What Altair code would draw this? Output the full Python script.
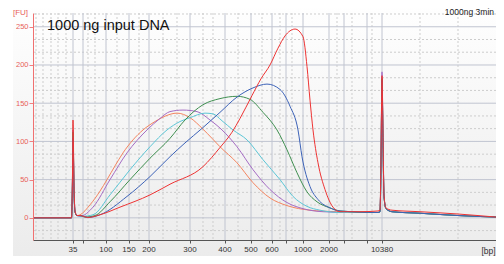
import altair as alt
import pandas as pd

# ---- axis / ladder data (migration time in s) ----
ladder_bp = [35, 50, 100, 150, 200, 300, 400, 500, 600, 700, 1000, 2000, 3000, 7000, 10380]
ladder_time = [43.0, 45.0, 49.6, 54.2, 58.2, 66.4, 73.4, 78.6, 82.8, 85.6, 89.0, 94.2, 97.2, 101.8, 104.8]
labeled_bp = [35, 100, 150, 200, 300, 400, 500, 600, 1000, 2000, 10380]
minor_time = [35.6, 37.0, 38.6, 40.0, 41.6, 46.0, 47.4, 51.8, 56.2, 61.0, 63.8, 69.0, 71.0,
              76.0, 80.8, 84.4, 86.8, 95.8, 98.8, 102.8, 112.4, 120.0]
fu_major = [0, 50, 100, 150, 200, 250]
fu_minor = [-16.7, 16.7, 33.3, 66.7, 83.3, 116.7, 133.3, 166.7, 183.3, 216.7, 233.3, 266.7]

# ---- series (time, FU) ----
orange_t = [35.0, 42.7, 42.9, 43.0, 43.2, 43.4, 43.8, 44.4, 46.4, 48.4, 49.8, 51.4, 53.0, 55.0, 57.0,
            59.4, 61.4, 63.8, 66.4, 69.0, 70.8, 72.4, 75.8, 79.0, 82.4, 85.8, 90.4, 95.8, 104.0, 104.4,
            104.6, 104.8, 105.0, 105.2, 105.6, 106.8, 112.4, 120.0, 127.6]
orange_fu = [0, 0, 55, 112, 38, 8, 3, 4, 17, 35, 50, 68, 85, 102, 115,
             126, 133, 137, 131, 116, 104, 93, 72, 46, 26, 16, 10, 8, 7, 8,
             70, 184, 100, 28, 12, 8, 6, 3, 1]

purple_t = [35.0, 42.7, 42.9, 43.0, 43.2, 43.4, 43.8, 44.4, 47.0, 50.4, 53.8, 57.8, 60.4, 62.4, 65.0,
            67.8, 70.4, 72.8, 75.8, 79.0, 82.4, 85.8, 89.0, 93.0, 98.4, 104.0, 104.4,
            104.6, 104.8, 105.0, 105.2, 105.6, 106.8, 112.4, 120.0, 127.6]
purple_fu = [0, 0, 55, 115, 38, 8, 3, 2, 14, 50, 85, 115, 130, 139, 141,
             139, 128, 115, 93, 63, 37, 20, 12, 8, 7, 7, 8,
             75, 191, 105, 28, 12, 8, 6, 3, 1]

cyan_t = [35.0, 42.7, 42.9, 43.0, 43.2, 43.4, 43.8, 44.8, 47.0, 50.4, 54.4, 58.4, 61.8, 64.4, 66.4,
          69.4, 71.0, 72.8, 75.0, 77.8, 81.0, 84.4, 87.0, 89.8, 92.4, 96.4, 104.0, 104.4,
          104.6, 104.8, 105.0, 105.2, 105.6, 106.8, 112.4, 120.0, 127.6]
cyan_fu = [0, 0, 50, 110, 36, 8, 3, 2, 4, 30, 63, 93, 115, 126, 131,
           137, 136, 127, 115, 102, 76, 50, 28, 15, 10, 7, 7, 8,
           68, 180, 100, 28, 12, 8, 6, 3, 1]

green_t = [35.0, 42.7, 42.9, 43.0, 43.2, 43.4, 43.8, 44.4, 45.4, 47.4, 50.4, 54.4, 58.4, 62.4, 65.4,
           69.0, 72.4, 75.8, 78.4, 81.0, 83.8, 85.8, 87.8, 89.8, 91.8, 94.4, 96.4, 104.0, 104.4,
           104.6, 104.8, 105.0, 105.2, 105.6, 106.8, 112.4, 120.0, 127.6]
green_fu = [0, 0, 52, 112, 37, 8, 3, 3, 1, 3, 21, 50, 78, 104, 128,
            148, 156, 159, 155, 138, 115, 89, 59, 34, 21, 13, 9, 7, 8,
            70, 182, 100, 28, 12, 8, 6, 3, 1]

blue_t = [35.0, 42.7, 42.9, 43.0, 43.2, 43.4, 43.8, 44.4, 46.0, 48.4, 53.8, 58.4, 62.4, 65.4, 68.8,
          72.4, 75.8, 79.0, 81.8, 84.4, 86.4, 88.0, 88.8, 90.4, 92.0, 94.4, 96.4, 104.0, 104.4,
          104.6, 104.8, 105.0, 105.2, 105.6, 106.8, 112.4, 120.0, 127.6]
blue_fu = [0, 0, 50, 105, 35, 8, 3, 3, 0.5, 4, 28, 54, 80, 98, 117,
           138, 158, 170, 175, 168, 146, 115, 80, 41, 24, 13, 9, 7, 8,
           68, 180, 100, 28, 12, 8, 6, 3, 1]

red_t = [35.0, 42.7, 42.9, 43.0, 43.2, 43.4, 43.8, 44.4, 46.0, 48.4, 52.4, 58.4, 62.4, 69.0, 72.4,
         74.8, 76.4, 78.8, 80.6, 82.4, 84.0, 85.4, 87.4, 89.0, 89.8, 90.4, 91.0, 92.0, 93.4, 95.0, 96.4,
         100.4, 104.0, 104.4, 104.6, 104.8, 105.0, 105.2, 105.6, 106.8, 112.4, 120.0, 127.6]
red_fu = [0, 0, 60, 128, 42, 9, 3, 3, 0.5, 4, 14, 30, 44, 67, 92,
          112, 130, 160, 182, 200, 222, 238, 247, 237, 198, 154, 115, 72, 37, 14, 8,
          8, 9, 10, 80, 186, 110, 30, 13, 10, 8, 5, 1]

title_str = "1000 ng input DNA"
run_str = "1000ng 3min"

W, H = 463, 227
SALMON = "#e8605a"

xscale = alt.Scale(domain=[35, 127.6], nice=False, zero=False)
yscale = alt.Scale(domain=[-29, 268], nice=False, zero=False)
xaxis = alt.Axis(values=ladder_time, labels=False, tickSize=3, tickColor="#555555",
                 domainColor="#555555", grid=False, title="[bp]", titleX=455, titleY=10,
                 titleFontSize=8.5, titleFontWeight="normal", titleColor="#333333",
                 titleAlign="center", titleBaseline="middle", zindex=2)
yaxis = alt.Axis(values=fu_major, tickSize=4, labelFontSize=7.5, labelColor=SALMON,
                 tickColor="#f08080", domainColor="#f07070", labelPadding=1, grid=False,
                 title="[FU]", titleAngle=0, titleX=-13, titleY=-1, titleAlign="center",
                 titleBaseline="middle", titleFontSize=8, titleFontWeight="normal",
                 titleColor=SALMON, zindex=2)


def X():
    return alt.X("t:Q", scale=xscale, axis=xaxis)


def Y():
    return alt.Y("fu:Q", scale=yscale, axis=yaxis)


bg = alt.Chart(pd.DataFrame({"a": [0]})).mark_rect(
    color=alt.LinearGradient(gradient="linear",
                             stops=[alt.GradientStop(color="#ffffff", offset=0),
                                    alt.GradientStop(color="#ebebeb", offset=1)],
                             x1=0, x2=0, y1=0, y2=1)
).encode(x=alt.value(-20), x2=alt.value(471), y=alt.value(-13), y2=alt.value(251))

vminor = alt.Chart(pd.DataFrame({"t": minor_time})).mark_rule(
    color="#cdcdcd", strokeDash=[2, 2], strokeWidth=1).encode(x=X())
hminor = alt.Chart(pd.DataFrame({"fu": fu_minor})).mark_rule(
    color="#cdcdcd", strokeDash=[2, 2], strokeWidth=1).encode(y=Y())
vmajor = alt.Chart(pd.DataFrame({"t": ladder_time})).mark_rule(
    color="#c0c4d0", strokeWidth=1).encode(x=X())
hmajor = alt.Chart(pd.DataFrame({"fu": fu_major})).mark_rule(
    color="#c0c4d0", strokeWidth=1).encode(y=Y())

series = [
    (orange_t, orange_fu, "#f4845f"),
    (purple_t, purple_fu, "#a56cc4"),
    (cyan_t, cyan_fu, "#5cc6d6"),
    (green_t, green_fu, "#3f8f50"),
    (blue_t, blue_fu, "#3d63b8"),
    (red_t, red_fu, "#ee3333"),
]
lines = []
for ts, fus, col in series:
    lines.append(
        alt.Chart(pd.DataFrame({"t": ts, "fu": fus})).mark_line(
            color=col, strokeWidth=1, interpolate="monotone", clip=True
        ).encode(x=X(), y=Y())
    )

lab_df = pd.DataFrame({"t": [ladder_time[ladder_bp.index(b)] for b in labeled_bp],
                       "label": [str(b) for b in labeled_bp]})
xlabels = alt.Chart(lab_df).mark_text(fontSize=8, color="#333333", baseline="middle").encode(
    x=X(), y=alt.value(237), text="label:N")

title_t = alt.Chart(pd.DataFrame({"text": [title_str]})).mark_text(
    align="left", baseline="middle", fontSize=14.5, color="#111111").encode(
    x=alt.value(14), y=alt.value(13), text="text:N")
run_t = alt.Chart(pd.DataFrame({"text": [run_str]})).mark_text(
    align="right", baseline="middle", fontSize=8.5, color="#222222").encode(
    x=alt.value(461), y=alt.value(-1), text="text:N")

chart = alt.layer(bg, vminor, hminor, vmajor, hmajor, *lines, xlabels, title_t, run_t).properties(
    width=W, height=H,
    autosize=alt.AutoSizeParams(type="none"),
    padding={"left": 25, "top": 5, "right": 0, "bottom": 16},
).configure(font="Liberation Sans").configure_view(stroke=None)

chart.save("out.html", embed_options={"renderer": "svg", "actions": False})
